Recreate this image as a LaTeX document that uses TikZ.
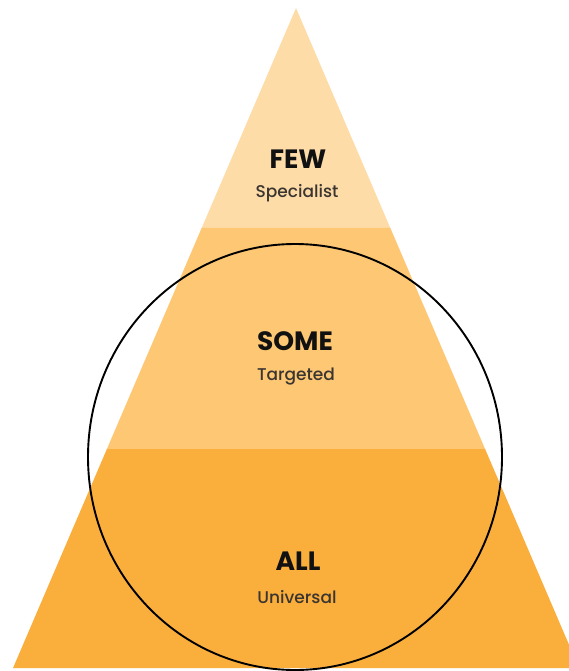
\documentclass[tikz,border=0pt]{standalone}
\usepackage{fontspec}
\setmainfont{Poppins}
\newfontfamily\subfont{Poppins Medium}
\usepackage{tikz}
\usetikzlibrary{calc}
\definecolor{tierfew}{HTML}{FEDCA8}
\definecolor{tiersome}{HTML}{FDC773}
\definecolor{tierall}{HTML}{FAAF3D}
\definecolor{head}{HTML}{111111}
\definecolor{sub}{HTML}{3A3530}
\tikzset{
  tier/.style={draw=none},
  ring/.style={draw=black, line width=1.9pt},
  headlab/.style={text=head, font=\fontsize{26.5}{26.5}\selectfont\bfseries},
  sublab/.style={text=sub, font=\fontsize{17}{17}\subfont}
}

\begin{document}
\begin{tikzpicture}[x=1pt, y=-1pt]
  \useasboundingbox (0,0) rectangle (569,671);
  \clip (0,0) rectangle (569,671);
  \fill[white] (0,0) rectangle (569,671);

  \coordinate (apex) at (296,8);
  \coordinate (baseL) at (13,668);
  \coordinate (baseR) at (579,668);
  \coordinate (upL) at ($(apex)!0.3333!(baseL)$);
  \coordinate (upR) at ($(apex)!0.3333!(baseR)$);
  \coordinate (midL) at ($(apex)!0.6682!(baseL)$);
  \coordinate (midR) at ($(apex)!0.6682!(baseR)$);

  % three tiers, top to bottom
  \fill[tier, tierfew] (apex)--(upR)--(upL)--cycle;
  \fill[tier, tiersome] (upL)--(upR)--(midR)--(midL)--cycle;
  \fill[tier, tierall] (midL)--(midR)--(baseR)--(baseL)--cycle;

  \node[headlab] (few) at (298,159) {FEW};
  \node[sublab] (fewsub) at (297,193) {Specialist};
  \node[headlab] (some) at (295,341) {SOME};
  \node[sublab] (somesub) at (296,377) {Targeted};
  \node[headlab] (all) at (298,561) {ALL};
  \node[sublab] (allsub) at (297,597) {Universal};

  \draw[ring] (295,457) ellipse [x radius=207, y radius=213];
\end{tikzpicture}
\end{document}
